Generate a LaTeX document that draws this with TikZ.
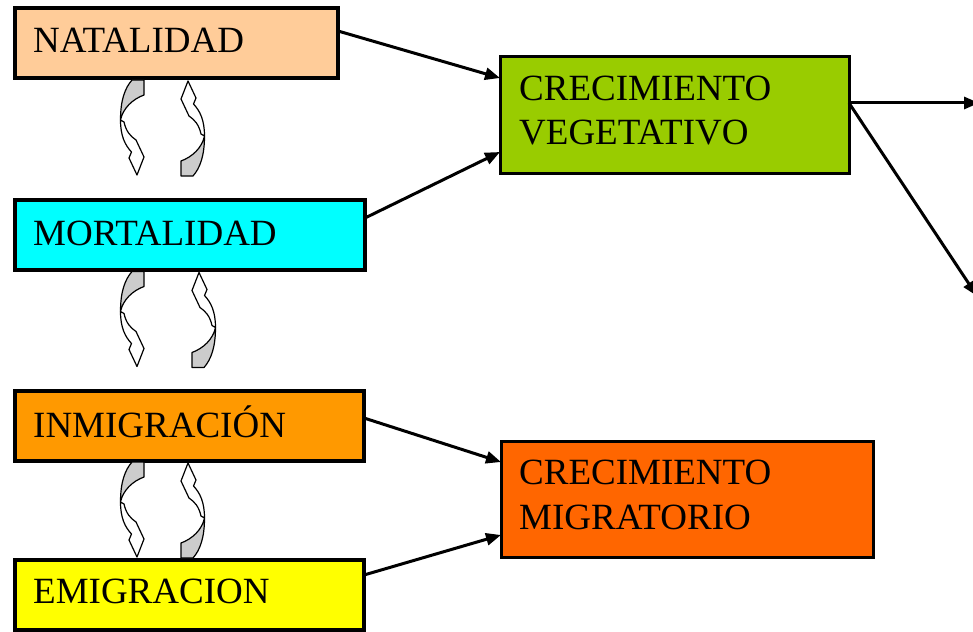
\documentclass[tikz,border=0pt]{standalone}
\usepackage{fontspec}
\setmainfont{Liberation Serif}
\usetikzlibrary{arrows.meta}
\definecolor{cnat}{HTML}{FFCC99}
\definecolor{cmort}{HTML}{00FFFF}
\definecolor{cinm}{HTML}{FF9900}
\definecolor{cemi}{HTML}{FFFF00}
\definecolor{cveg}{HTML}{99CC00}
\definecolor{cmig}{HTML}{FF6600}
\definecolor{cgray}{HTML}{CCCCCC}
\tikzset{
  box/.style={draw=black, line width=4pt, rectangle, outer sep=0pt, inner sep=0pt, anchor=north west},
  bigbox/.style={box, line width=3pt},
  lbl/.style={anchor=base west, inner sep=0pt, font=\fontsize{37}{44}\selectfont},
  conn/.style={line width=3pt, -{Triangle[length=15pt,width=12pt]}},
  carrow/.pic={
    \filldraw[fill=cgray, line width=1.2pt, line join=round]
      (-1,-48) .. controls (-8,-40) and (-12.5,-28) .. (-12.5,-8)
      .. controls (-10,-20) and (0,-29) .. (11,-33) -- (11,-48) -- cycle;
    \filldraw[fill=white, line width=1.2pt, line join=round]
      (-12.5,-8) .. controls (-12.5,8) and (-8,17) .. (-1.5,24) -- (-4,30) -- (4,47)
      -- (11,29) -- (3,12) .. controls (-3,8) and (-7,3) .. (-9,-6) -- cycle;
  }
}
\begin{document}
\begin{tikzpicture}[x=1pt, y=-1pt]
\useasboundingbox (0,0) rectangle (973,631);

% left boxes
\node[box, fill=cnat,  minimum width=323pt, minimum height=70pt] (nat)  at (15,8)   {};
\node[box, fill=cmort, minimum width=350pt, minimum height=70pt] (mort) at (15,200) {};
\node[box, fill=cinm,  minimum width=349pt, minimum height=70pt] (inm)  at (15,391) {};
\node[box, fill=cemi,  minimum width=349pt, minimum height=70pt] (emi)  at (15,560) {};
% right boxes
\node[bigbox, fill=cveg, minimum width=349pt, minimum height=116pt] (veg) at (500,57)  {};
\node[bigbox, fill=cmig, minimum width=372pt, minimum height=116pt] (mig) at (501,441) {};

% texts
\node[lbl] (natT)  at (33,53)  {NATALIDAD};
\node[lbl] (mortT) at (33,245) {MORTALIDAD};
\node[lbl] (inmT)  at (33,437) {INMIGRACIÓN};
\node[lbl] (emiT)  at (33,603) {EMIGRACION};
\node[lbl] (vegA)  at (519,101) {CRECIMIENTO};
\node[lbl] (vegB)  at (519,145) {VEGETATIVO};
\node[lbl] (migA)  at (519,484) {CRECIMIENTO};
\node[lbl] (migB)  at (519,529) {MIGRATORIO};

% connectors
\draw[conn] ([yshift=-23pt]nat.north east) -- ([yshift=-21pt]veg.north west);
\draw[conn] ([yshift=-18pt]mort.north east) -- ([yshift=21pt]veg.south west);
\draw[conn] ([yshift=-27pt]inm.north east) -- ([yshift=-21pt]mig.north west);
\draw[conn] ([yshift=-15pt]emi.north east) -- ([yshift=22pt]mig.south west);
\coordinate (outA) at (979,103);
\coordinate (outB) at (977,296);
\draw[conn] ([yshift=12pt]veg.east) -- (outA);
\draw[conn] ([yshift=12pt]veg.east) -- (outB);

% curved arrows
\pic at (133,128) {carrow};
\pic[rotate=180] at (192,128) {carrow};
\pic at (133,319.5) {carrow};
\pic[rotate=180] at (203,319.5) {carrow};
\pic at (133,510) {carrow};
\pic[rotate=180] at (192,510) {carrow};
\end{tikzpicture}
\end{document}
